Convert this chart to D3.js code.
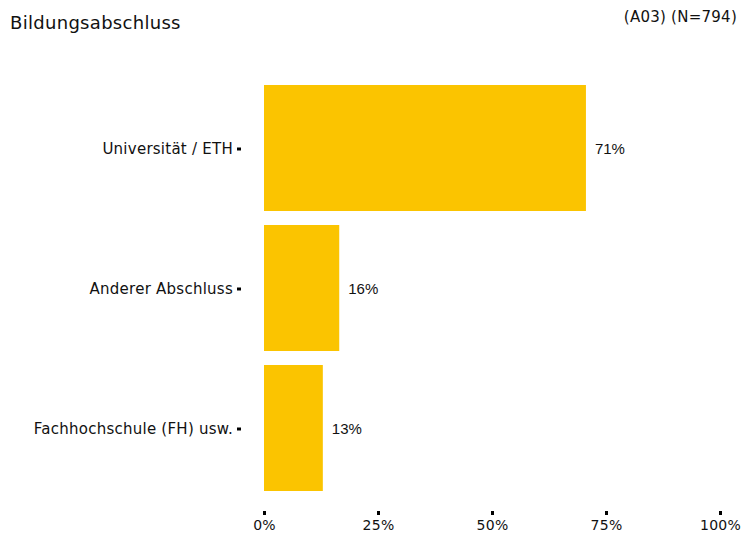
<!DOCTYPE html>
<html><head><meta charset="utf-8">
<script src="https://cdn.jsdelivr.net/npm/d3@7"></script>
<style>body{margin:0;background:#fff}</style>
</head><body>
<script>
const categories = ["Universität / ETH", "Anderer Abschluss", "Fachhochschule (FH) usw."];
const values = [70.6, 16.5, 12.9];
const valueLabels = ["71%", "16%", "13%"];
const xTicks = [0, 25, 50, 75, 100];
const title = "Bildungsabschluss";
const subtitle = "(A03) (N=794)";

const W = 742, H = 534;
const svg = d3.select("body").append("svg").attr("width", W).attr("height", H);
const x = d3.scaleLinear().domain([0, 100]).range([264, 720]);
const y = d3.scaleBand().domain(categories).range([78, 498]).paddingInner(0.1).paddingOuter(0.05);
const font = "DejaVu Sans";

svg.append("text").attr("x", 10).attr("y", 29).attr("font-family", font).attr("font-size", 18)
  .attr("letter-spacing", 0.3).attr("fill", "#111").text(title);
svg.append("text").attr("x", 737).attr("y", 22).attr("text-anchor", "end").attr("font-family", font)
  .attr("font-size", 15).attr("letter-spacing", 0.25).attr("fill", "#111").text(subtitle);

svg.selectAll("rect.bar").data(values).enter().append("rect").attr("class", "bar")
  .attr("x", x(0)).attr("y", (d, i) => y(categories[i]))
  .attr("width", d => x(d) - x(0)).attr("height", y.bandwidth()).attr("fill", "#FBC400");

svg.selectAll("text.val").data(values).enter().append("text").attr("class", "val")
  .attr("x", d => x(d) + 9).attr("y", (d, i) => y(categories[i]) + y.bandwidth() / 2 + 1)
  .attr("dy", "0.35em").attr("font-family", "Liberation Sans").attr("font-size", 15).attr("fill", "#111")
  .text((d, i) => valueLabels[i]);

// y axis
const yAxis = svg.append("g").attr("transform", "translate(241,0)")
  .call(d3.axisLeft(y).tickSize(4).tickPadding(4));
yAxis.select(".domain").remove();
yAxis.selectAll(".tick line").attr("stroke", "#000").attr("stroke-width", 3).attr("transform", "translate(0,1)");
yAxis.selectAll(".tick text").attr("font-family", font).attr("font-size", 15).attr("letter-spacing", 0.25)
  .attr("dy", "0.42em").attr("fill", "#111");

// x axis
const xAxis = svg.append("g").attr("transform", "translate(0,511)")
  .call(d3.axisBottom(x).tickValues(xTicks).tickFormat(d => d + "%").tickSize(4).tickPadding(5));
xAxis.select(".domain").remove();
xAxis.selectAll(".tick line").attr("stroke", "#000").attr("stroke-width", 3);
xAxis.selectAll(".tick text").attr("font-family", font).attr("font-size", 14).attr("letter-spacing", 0.25).attr("fill", "#111");
</script>
</body></html>
